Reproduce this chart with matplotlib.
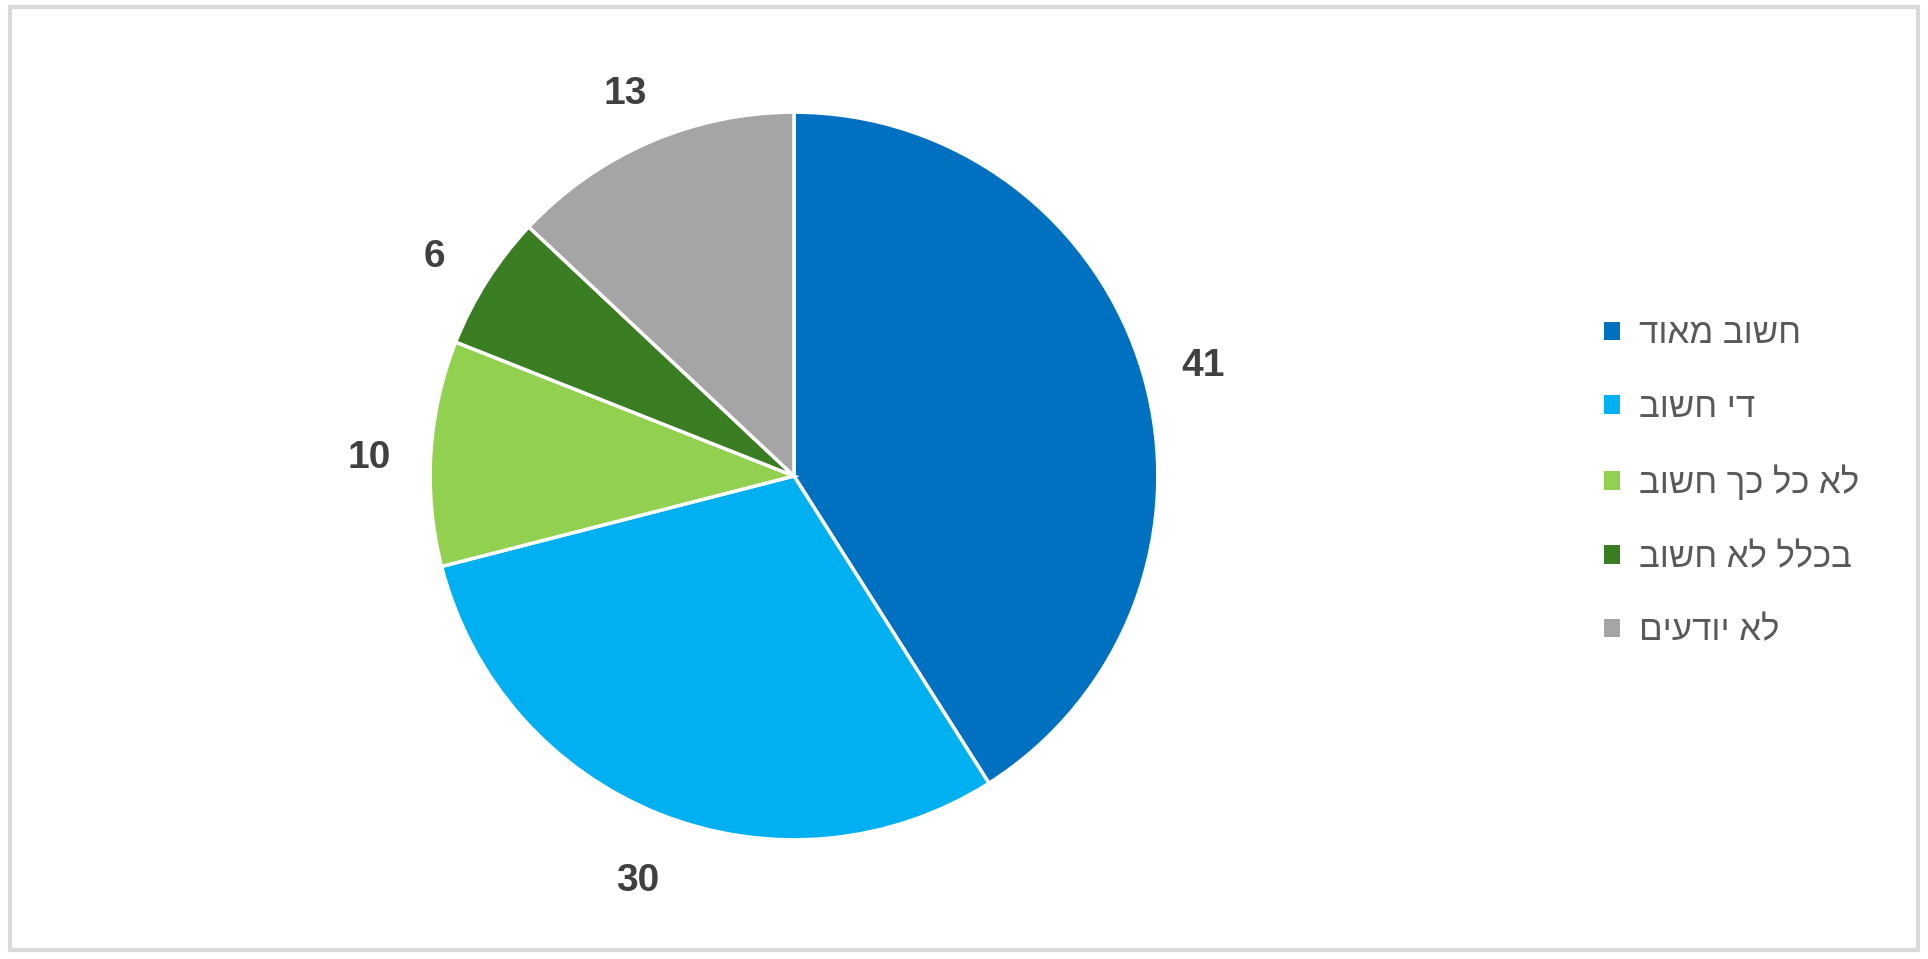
import matplotlib.pyplot as plt
import numpy as np
from matplotlib.patches import Rectangle, Patch

plt.rcParams['font.family'] = ['Liberation Sans', 'DejaVu Sans']

# data
categories = ['חשוב מאוד', 'די חשוב', 'לא כל כך חשוב', 'בכלל לא חשוב', 'לא יודעים']
values = [41, 30, 10, 6, 13]
colors = ['#0070C0', '#00B0F0', '#92D050', '#3A7D22', '#A5A5A5']

fig = plt.figure(figsize=(19.28, 9.59), dpi=100)

# outer frame
fig.patches.append(Rectangle((10 / 1928, 9 / 959), 1908 / 1928, 943 / 959,
                             transform=fig.transFigure, fill=False,
                             edgecolor='#D9D9D9', linewidth=3))

ax = fig.add_axes([321 / 1928, 10 / 959, 946 / 1928, 946 / 959])
wedges, _ = ax.pie(values, colors=colors, startangle=90, counterclock=False,
                   radius=1.0,
                   wedgeprops=dict(edgecolor='white', linewidth=2.5))
ax.set_xlim(-1.3, 1.3)
ax.set_ylim(-1.3, 1.3)
ax.set_aspect('equal')
ax.axis('off')

# value labels outside the slices
for w, v in zip(wedges, values):
    mid = np.deg2rad((w.theta1 + w.theta2) / 2)
    ax.text(1.17 * np.cos(mid), 1.17 * np.sin(mid) - 0.025, str(v),
            ha='center', va='center', fontsize=28, fontweight='bold',
            color='#404040')

# legend (hebrew reversed for display, matplotlib draws LTR)
handles = [Patch(facecolor=c, edgecolor='none') for c in colors]
labels = [c[::-1] for c in categories]
leg = fig.legend(handles, labels, loc='center left',
                 bbox_to_anchor=(1573 / 1928, 0.497), frameon=False,
                 fontsize=25, labelcolor='#595959', handlelength=0.45,
                 handleheight=0.45, handletextpad=0.55, labelspacing=1.17)

fig.savefig('out.png', dpi=100, facecolor='white')
